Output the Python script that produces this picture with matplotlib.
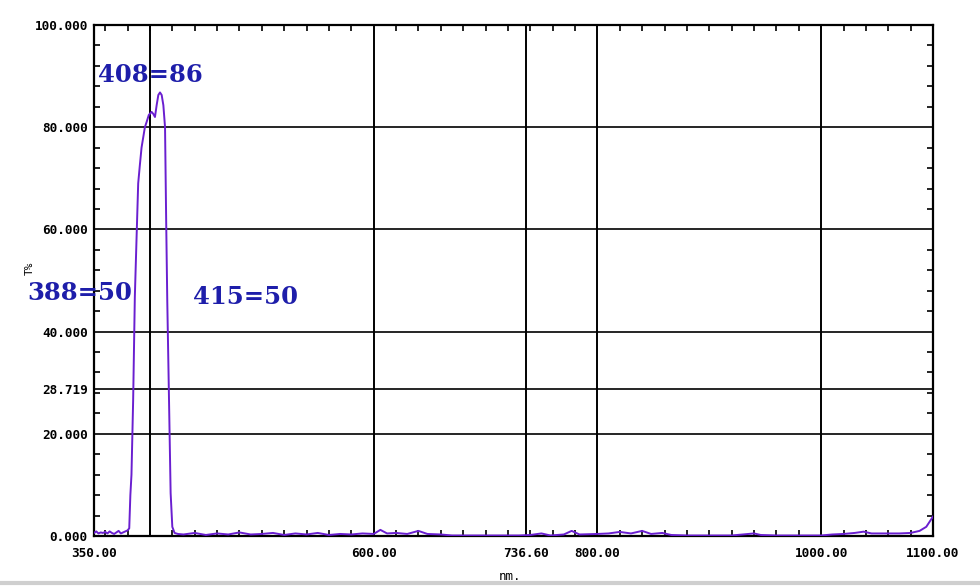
import matplotlib
matplotlib.use("Agg")
import matplotlib.pyplot as plt
from matplotlib.ticker import FixedLocator, MultipleLocator
from matplotlib.lines import Line2D

# ---- Data ----
wavelength = [350, 352, 354, 356, 358, 360, 362, 364, 366, 368, 370, 372, 374, 376, 378, 380,
              381.5, 382.5, 383.5, 385, 386.5, 388, 389.5, 391, 392.5, 394, 395.5, 397, 399,
              401.5, 403, 404.5, 406, 407.5, 409, 410.5, 412, 413.5, 414.5, 415.5, 417, 418.5,
              420, 422, 425, 430, 440, 450, 460, 470, 480, 490, 500, 510, 520, 530, 540, 550,
              560, 570, 580, 590, 600, 606, 612, 620, 630, 640, 648, 660, 670, 680, 690, 700,
              710, 720, 730, 740, 750, 758, 770, 777, 784, 800, 810, 820, 830, 840, 848, 858,
              866, 880, 900, 920, 940, 946, 960, 980, 1000, 1010, 1020, 1030, 1038, 1045, 1060,
              1070, 1080, 1088, 1094, 1100]
transmit = [0.6, 0.9, 0.5, 0.7, 0.6, 0.8, 0.5, 0.9, 0.6, 0.4, 0.7, 1.0, 0.5, 0.7, 0.9, 1.1,
            1.5, 8.0, 12.0, 26.6, 46.8, 58.0, 69.0, 72.6, 76.0, 78.0, 80.0, 81.0, 82.4,
            83.0, 82.6, 82.0, 84.3, 86.3, 86.8, 86.3, 84.3, 80.0, 62.0, 46.0, 27.3, 8.4,
            1.8, 0.6, 0.4, 0.3, 0.6, 0.2, 0.5, 0.3, 0.7, 0.3, 0.4, 0.6, 0.2, 0.5, 0.3, 0.6,
            0.2, 0.4, 0.3, 0.5, 0.4, 1.2, 0.5, 0.6, 0.4, 1.0, 0.4, 0.3, 0.1, 0.1, 0.1, 0.1,
            0.1, 0.1, 0.1, 0.2, 0.5, 0.1, 0.3, 1.0, 0.3, 0.4, 0.5, 0.8, 0.5, 1.0, 0.4, 0.6,
            0.2, 0.1, 0.1, 0.1, 0.5, 0.2, 0.1, 0.1, 0.1, 0.3, 0.4, 0.6, 0.85, 0.5, 0.5,
            0.5, 0.6, 1.0, 1.8, 3.8]

x_ticks = [350, 600, 736.6, 800, 1000, 1100]
x_labels = ["350.00", "600.00", "736.60", "800.00", "1000.00", "1100.00"]
y_ticks = [0, 20, 28.719, 40, 60, 80, 100]
y_labels = ["0.000", "20.000", "28.719", "40.000", "60.000", "80.000", "100.000"]
x_grid = [400, 600, 736.6, 800, 1000]
y_grid = [20, 28.719, 40, 60, 80]

# (text, x, y) of the peak markers
marks = [("408=86", 353.6, 90.2), ("388=50", 290.0, 47.6), ("415=50", 438.5, 46.8)]

# ---- Plot ----
mono = "DejaVu Sans Mono"
fig = plt.figure(figsize=(9.8, 5.86), dpi=100)
ax = fig.add_axes([94 / 980, 1 - 536 / 586, (933 - 94) / 980, (536 - 25) / 586])

for xv in x_grid:
    ax.axvline(xv, color="black", lw=1.4, zorder=1)
for yv in y_grid:
    ax.axhline(yv, color="black", lw=1.2, zorder=1)

ax.plot(wavelength, transmit, color="#6a1fd0", lw=1.4, zorder=3)

ax.set_xlim(350, 1100)
ax.set_ylim(0, 100)

ax.xaxis.set_major_locator(FixedLocator(x_ticks))
ax.set_xticklabels(x_labels, fontsize=9.2, family=mono, fontweight="bold")
ax.yaxis.set_major_locator(FixedLocator(y_ticks))
ax.set_yticklabels(y_labels, fontsize=9.2, family=mono, fontweight="bold")
ax.xaxis.set_minor_locator(FixedLocator(list(range(360, 1101, 20))))
ax.yaxis.set_minor_locator(MultipleLocator(4))
ax.tick_params(which="both", direction="in", top=True, right=True, width=1.2)
ax.tick_params(axis="y", which="major", length=0, pad=4.5)
ax.tick_params(axis="x", which="major", length=0, pad=8)
ax.tick_params(which="minor", length=4)

for s in ax.spines.values():
    s.set_linewidth(1.6)
    s.set_color("black")

for txt, xv, yv in marks:
    ax.text(xv, yv, txt, color="#1e1eaa", fontsize=17.5, fontweight="bold",
            family="DejaVu Serif", ha="left", va="center", clip_on=False, zorder=4)

fig.text(30 / 980, 1 - 268 / 586, "T%", rotation=90, fontsize=8, family=mono,
         ha="center", va="center")
fig.text(510 / 980, 1 - 576 / 586, "nm.", fontsize=9, family=mono, ha="center", va="center")

# light grey frame edge along the bottom
fig.add_artist(Line2D([0, 1], [1 - 583 / 586] * 2, color="#cfcfcf", lw=3,
                      transform=fig.transFigure))

plt.savefig("out.png", dpi=100)
plt.close()
